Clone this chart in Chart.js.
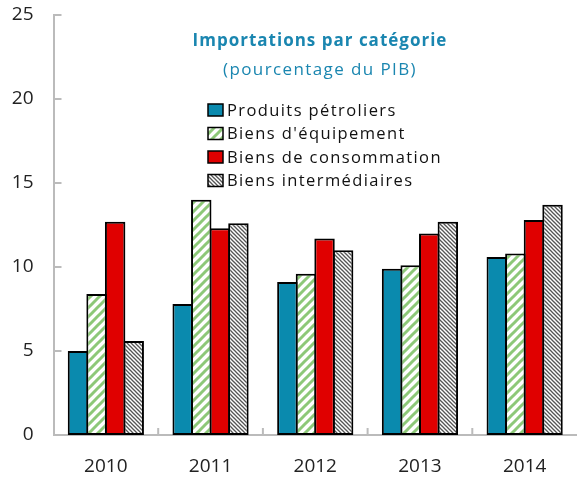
<!DOCTYPE html>
<html>
<head>
<meta charset="utf-8">
<script src="https://cdn.jsdelivr.net/npm/chart.js@4.4.1/dist/chart.umd.min.js"></script>
<style>
html,body{margin:0;padding:0;background:#fff;}
canvas{display:block;}
</style>
</head>
<body>
<canvas id="c" width="577" height="478"></canvas>
<script>
const categories = ['2010', '2011', '2012', '2013', '2014'];
const seriesNames = ['Produits pétroliers', "Biens d'équipement", 'Biens de consommation', 'Biens intermédiaires'];
const petroliers = [5.0, 7.8, 9.1, 9.9, 10.6];
const equipement = [8.4, 14.0, 9.6, 10.1, 10.8];
const consommation = [12.7, 12.3, 11.7, 12.0, 12.8];
const intermediaires = [5.6, 12.6, 11.0, 12.7, 13.7];
const yTicks = [0, 5, 10, 15, 20, 25];
const titleText = 'Importations par catégorie';
const subtitleText = '(pourcentage du PIB)';

const FONT = "'Open Sans', 'Noto Sans', sans-serif";

function stripePattern(color, size, width, dir) {
  const c = document.createElement('canvas');
  c.width = size; c.height = size;
  const g = c.getContext('2d');
  g.fillStyle = '#fff';
  g.fillRect(0, 0, size, size);
  g.strokeStyle = color;
  g.lineWidth = width;
  g.lineCap = 'square';
  for (let k = -1; k <= 1; k++) {
    g.beginPath();
    if (dir > 0) {
      g.moveTo(k * size, size);
      g.lineTo(k * size + size, 0);
    } else {
      g.moveTo(k * size, 0);
      g.lineTo(k * size + size, size);
    }
    g.stroke();
  }
  return g.createPattern(c, 'repeat');
}
const greenPat = stripePattern('#8dc878', 9, 3, 1);
const grayPat = stripePattern('#555555', 4, 1.3, -1);
const fills = ['#0a8aae', greenPat, '#e00000', grayPat];

const innerTicks = {
  id: 'innerTicks',
  afterDraw(chart) {
    const ctx = chart.ctx;
    const y = chart.scales.y, x = chart.scales.x;
    const a = chart.chartArea;
    ctx.save();
    ctx.strokeStyle = '#bbbbbb';
    ctx.lineWidth = 2;
    yTicks.forEach(v => {
      const py = Math.round(y.getPixelForValue(v));
      ctx.beginPath();
      ctx.moveTo(a.left, py);
      ctx.lineTo(a.left + 8, py);
      ctx.stroke();
    });
    for (let i = 1; i < categories.length; i++) {
      const px = (x.getPixelForValue(i - 1) + x.getPixelForValue(i)) / 2;
      ctx.beginPath();
      ctx.moveTo(px, a.bottom);
      ctx.lineTo(px, a.bottom - 7);
      ctx.stroke();
    }
    ctx.restore();
  }
};

const titleLegend = {
  id: 'titleLegend',
  afterDraw(chart) {
    const ctx = chart.ctx;
    ctx.save();
    ctx.fillStyle = '#1a86b0';
    ctx.textAlign = 'center';
    ctx.textBaseline = 'middle';
    ctx.letterSpacing = '1px';
    ctx.font = "bold 17px " + FONT;
    ctx.fillText(titleText, 320, 41);
    ctx.letterSpacing = '1.4px';
    ctx.font = "17px " + FONT;
    ctx.fillText(subtitleText, 320, 70);
    ctx.textAlign = 'left';
    ctx.letterSpacing = '1.4px';
    ctx.font = "16.5px " + FONT;
    chart.data.datasets.forEach((ds, i) => {
      const cy = 110 + i * 23.5;
      ctx.fillStyle = ds.backgroundColor;
      ctx.fillRect(208, cy - 6, 15, 12);
      ctx.strokeStyle = '#000';
      ctx.lineWidth = 1.5;
      ctx.strokeRect(208, cy - 6, 15, 12);
      ctx.fillStyle = '#111';
      ctx.fillText(ds.label, 227, cy + 1);
    });
    ctx.restore();
  }
};

const dataArrays = [petroliers, equipement, consommation, intermediaires];

new Chart(document.getElementById('c'), {
  type: 'bar',
  data: {
    labels: categories,
    datasets: dataArrays.map((d, i) => ({
      label: seriesNames[i],
      data: d,
      backgroundColor: fills[i],
      borderColor: '#000',
      borderWidth: 2,
      borderSkipped: false,
      categoryPercentage: 0.71,
      barPercentage: 1.1
    }))
  },
  options: {
    responsive: false,
    animation: false,
    devicePixelRatio: 1,
    layout: { autoPadding: false, padding: { top: 15, right: 0, left: 0, bottom: 0 } },
    plugins: {
      legend: { display: false },
      tooltip: { enabled: false },
      title: { display: false }
    },
    scales: {
      x: {
        grid: { display: false, drawTicks: false },
        border: { color: '#bbbbbb', width: 2 },
        ticks: { font: { family: FONT, size: 19 }, color: '#222', padding: 20 },
        afterFit(s) { s.height = 43; s.paddingLeft = 0; s.paddingRight = 0; }
      },
      y: {
        min: 0, max: 25,
        afterBuildTicks(s) { s.ticks = yTicks.map(v => ({ value: v })); },
        grid: { display: false, drawTicks: false },
        border: { color: '#bbbbbb', width: 2 },
        ticks: { font: { family: FONT, size: 19 }, color: '#222', padding: 20 },
        afterFit(s) { s.width = 53.5; s.paddingTop = 0; s.paddingBottom = 0; }
      }
    }
  },
  plugins: [innerTicks, titleLegend]
});
</script>
</body>
</html>
